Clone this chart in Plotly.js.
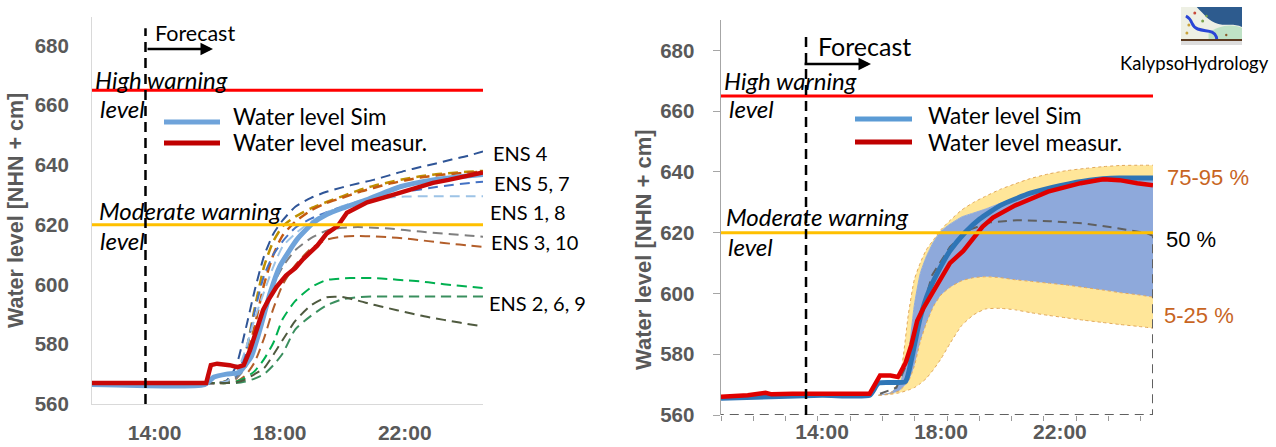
<!DOCTYPE html>
<html>
<head>
<meta charset="utf-8">
<script src="https://cdn.plot.ly/plotly-3.0.1.min.js"></script>
<style>html,body{margin:0;padding:0;background:#fff;}#chart{width:1276px;height:447px;}</style>
</head>
<body>
<div id="chart"></div>
<script>
// ---------------- DATA ----------------
// Left panel: ensemble forecast (hours of day, 24.5 = 00:30 next day)
const ensHours = [12, 16.0, 16.3, 16.6, 16.9, 17.2, 17.5, 17.8, 18.1, 18.5, 19.0, 19.5, 20.0, 20.5, 21.0, 21.5, 22.0, 22.5, 23.0, 23.5, 24.0, 24.5];
const ens4      = [567, 567, 567.8, 572.5, 584.5, 598, 609.5, 617, 621.5, 626, 629, 631, 632.5, 633.8, 635, 636.5, 638, 639.3, 640.5, 641.8, 643, 644.5];
const ens7      = [567, 567, 567.6, 569, 576.5, 592, 606, 614.5, 619.5, 622.7, 625.5, 627.6, 629.5, 631.4, 633, 634.2, 635.3, 636.2, 636.9, 637.3, 637.7, 638];
const ens10b    = [567, 567, 567.3, 568.5, 574, 586, 600, 610, 616.5, 621, 624.8, 627.3, 629, 630.8, 632.3, 633.7, 634.8, 635.8, 636.5, 637, 637.4, 637.8];
const ens5      = [567, 567, 567.6, 569, 577, 591, 603, 610, 614.5, 619, 622, 624.2, 626, 627.5, 628.8, 630, 631, 631.8, 632.6, 633.3, 633.9, 634.4];
const ens1      = [567, 567, 567.5, 570, 578, 588.5, 597.5, 606, 612.8, 617, 621, 624, 626.2, 627.8, 628.6, 629.1, 629.4, 629.5, 629.5, 629.5, 629.5, 629.5];
const ens3      = [567, 567, 567, 568.5, 572, 580, 590, 600, 606, 611.5, 615.5, 618, 619, 619.2, 619, 618.7, 618.2, 617.7, 617.2, 616.8, 616.4, 616];
const ens10     = [567, 567, 567, 567.5, 569.5, 574, 582, 592, 600, 606.5, 612, 615, 616, 616.2, 616.1, 615.8, 615.4, 614.8, 614.2, 613.6, 613.1, 612.6];
const ens2      = [567, 567, 567, 567.5, 568.8, 571, 575, 580.5, 588.5, 594.5, 599, 601.5, 602, 602.2, 602.1, 601.8, 601.4, 601, 600.4, 599.8, 599.3, 598.8];
const ens6      = [567, 567, 567, 567, 567.5, 568.5, 570, 573, 577, 585, 589.5, 593, 595, 595.7, 596, 596, 596, 596, 596, 596, 596, 596];
const ens9      = [567, 567, 567, 567.2, 568.2, 570, 572, 576.5, 581.5, 587.8, 593, 595.7, 595.8, 594.6, 593.2, 592, 590.8, 589.6, 588.6, 587.7, 586.8, 586];

const simHoursL = [12, 15.6, 15.9, 16.3, 16.7, 16.9, 17.1, 17.37, 17.69, 18.0, 18.55, 19.07, 19.5, 20.0, 20.8, 21.85, 22.9, 23.7, 24.5];
const simLevelL = [566.5, 566.5, 569, 570, 570.5, 573, 576, 585, 597, 606, 615, 620.6, 623.4, 625.5, 628.4, 632.7, 635, 636, 636.8];
const obsHoursL = [12, 13, 14, 15, 15.65, 15.8, 16.0, 16.4, 16.65, 16.85, 17.05, 17.3, 17.47, 17.65, 17.9, 18.2, 18.5, 18.75, 19.2, 19.5, 19.85, 20.15, 20.5, 20.8, 21.3, 21.85, 22.4, 22.9, 23.4, 23.8, 24.5];
const obsLevelL = [567, 567, 567, 567, 567, 573, 573.5, 573, 572.3, 573, 578, 586, 591.5, 595, 599.2, 603, 605.5, 608.5, 613, 617, 619.5, 624, 626, 627.5, 629, 630.8, 632.5, 634, 635, 635.8, 637.5];

// Right panel: percentile bands
const bandHours = [15.9, 16.3, 16.6, 16.9, 17.1, 17.3, 17.5, 17.75, 18.0, 18.3, 18.7, 19.1, 19.5, 20.0, 20.5, 21.0, 21.6, 22.2, 22.8, 23.4, 24.0, 24.6, 25.13];
const p5  = [566.5, 566.8, 567.3, 568.2, 569, 570.3, 572, 575, 578.5, 583.5, 589.5, 593, 594.9, 595.1, 594.6, 593.7, 592.8, 592, 591.2, 590.5, 589.8, 589.2, 588.6];
const p25 = [566.5, 567, 568, 571, 576, 584, 590, 595.8, 599.5, 602, 604.2, 605.2, 605.5, 605.2, 604.5, 604, 603.4, 602.8, 602, 601.2, 600.3, 599.6, 598.8];
const p75 = [566.5, 567.3, 570, 580, 596, 606.5, 612, 617, 620.5, 622.8, 625.2, 626.5, 627.8, 629.7, 631.5, 633, 634.8, 636.2, 637.3, 637.9, 638.3, 638.3, 638.3];
const p95 = [566.5, 567.2, 571.5, 593, 604.5, 610, 614.3, 617.7, 621, 624, 627.5, 630, 632, 634.3, 636.1, 637.8, 639.3, 640.4, 641.1, 641.7, 642.1, 642.2, 642.2];
const p50Hours = [15.95, 16.5, 16.9, 17.3, 17.7, 18.3, 18.9, 19.65, 20.55, 21.66, 22.77, 23.92, 24.93, 25.13, 25.13, 10.6];
const p50      = [567, 569, 578, 592, 606, 615.3, 620.8, 623.4, 624.1, 623.8, 623.1, 621.5, 619.8, 619, 560, 560];

const simHoursR = [10.6, 14, 15.6, 15.9, 16.8, 17.0, 17.3, 17.6, 18.0, 18.3, 18.8, 19.3, 20, 21, 22, 23, 24, 25.13];
const simLevelR = [565.5, 566.5, 566.5, 570.5, 571, 578, 592, 601, 609, 614, 620, 624.5, 629, 633, 635.5, 637.3, 638, 638];
const obsHoursR = [10.6, 11.5, 12.1, 12.3, 13, 14, 15, 15.6, 15.95, 16.3, 16.55, 16.8, 17.0, 17.2, 17.4, 17.9, 18.3, 18.75, 19.1, 19.4, 19.75, 20.5, 21.6, 22.7, 23.45, 24.0, 24.6, 25.13];
const obsLevelR = [566, 566.5, 567.3, 566.8, 567, 567, 567, 567, 573, 573, 572.5, 577, 583, 591, 595, 603.5, 610, 614, 618.5, 622, 625, 629, 633.5, 636.3, 637.6, 637.3, 636.3, 635.6];

// Thresholds and axis labels
const highWarning = 665;
const moderateWarning = 620;
const forecastStartL = 13.71;
const forecastStartR = 13.46;
const xTickVals = [14, 18, 22];
const xTickText = ['14:00', '18:00', '22:00'];
const yTickVals = [560, 580, 600, 620, 640, 660, 680];

const ensNames  = ['ENS 4', 'ENS 7', 'ENS 10b', 'ENS 5', 'ENS 1', 'ENS 3', 'ENS 10', 'ENS 2', 'ENS 6', 'ENS 9'];
const ensSeries = [ens4, ens7, ens10b, ens5, ens1, ens3, ens10, ens2, ens6, ens9];
const ensColors = ['#2F5597', '#BF9000', '#C55A11', '#4472C4', '#9DC3E6', '#7F7F7F', '#B35E2A', '#00B050', '#3A8F5E', '#4F5A3F'];
const ensLabels = ['ENS 4', 'ENS 5, 7', 'ENS 1, 8', 'ENS 3, 10', 'ENS 2, 6, 9'];

// ---------------- CHART ----------------
const W = 1276, H = 447;
const px = x => x / W;
const py = y => 1 - y / H;
const TF = 'Lato, "Open Sans", sans-serif';
const AF = '"Liberation Sans", Arial, sans-serif';

const traces = [];
ensSeries.forEach((s, i) => {
  traces.push({x: ensHours, y: s, xaxis: 'x', yaxis: 'y', type: 'scatter', mode: 'lines', name: ensNames[i],
    line: {color: ensColors[i], width: (i === 1 || i === 2) ? 2.5 : 2, dash: '10px,6px', shape: 'spline', smoothing: 0.6}, hoverinfo: 'skip'});
});
traces.push({x: simHoursL, y: simLevelL, xaxis: 'x', yaxis: 'y', mode: 'lines', name: 'Sim',
  line: {color: '#6FA3DA', width: 5, shape: 'spline', smoothing: 0.5}});
traces.push({x: obsHoursL, y: obsLevelL, xaxis: 'x', yaxis: 'y', mode: 'lines', name: 'Measured',
  line: {color: '#C80808', width: 4.5}});

const edge = {color: '#E2A85A', width: 1, dash: 'dot', shape: 'spline', smoothing: 0.5};
traces.push({x: bandHours, y: p5, xaxis: 'x2', yaxis: 'y2', mode: 'lines', line: edge});
traces.push({x: bandHours, y: p25, xaxis: 'x2', yaxis: 'y2', mode: 'lines', line: edge, fill: 'tonexty', fillcolor: '#FFE699'});
traces.push({x: bandHours, y: p75, xaxis: 'x2', yaxis: 'y2', mode: 'lines', line: {color: '#8EA9DB', width: 1, shape: 'spline', smoothing: 0.5}, fill: 'tonexty', fillcolor: '#8EA9DB'});
traces.push({x: bandHours, y: p95, xaxis: 'x2', yaxis: 'y2', mode: 'lines', line: edge, fill: 'tonexty', fillcolor: '#FFE699'});
traces.push({x: p50Hours, y: p50, xaxis: 'x2', yaxis: 'y2', mode: 'lines', line: {color: '#606060', width: 2, dash: '9px,6px'}});
traces.push({x: simHoursR, y: simLevelR, xaxis: 'x2', yaxis: 'y2', mode: 'lines', line: {color: '#2E75B6', width: 5, shape: 'spline', smoothing: 0.5}});
traces.push({x: obsHoursR, y: obsLevelR, xaxis: 'x2', yaxis: 'y2', mode: 'lines', line: {color: '#E00000', width: 4.5}});

const tickFontY = {family: AF, size: 20.5, color: '#595959', weight: 'bold'};
const tickFontX = {family: AF, size: 21, color: '#595959', weight: 'bold'};

const shapes = [
  // left thresholds
  {type: 'line', xref: 'x domain', yref: 'y', x0: 0, x1: 1, y0: highWarning, y1: highWarning, line: {color: '#FF0000', width: 3}},
  {type: 'line', xref: 'x domain', yref: 'y', x0: 0, x1: 1, y0: moderateWarning, y1: moderateWarning, line: {color: '#FFC000', width: 3}},
  {type: 'line', xref: 'x', yref: 'y', x0: forecastStartL, x1: forecastStartL, y0: 560, y1: 685.7, line: {color: '#000', width: 2.5, dash: '10px,6px'}},
  // right thresholds
  {type: 'line', xref: 'x2 domain', yref: 'y2', x0: 0, x1: 1, y0: highWarning, y1: highWarning, line: {color: '#FF0000', width: 3}},
  {type: 'line', xref: 'x2 domain', yref: 'y2', x0: 0, x1: 1, y0: moderateWarning, y1: moderateWarning, line: {color: '#FFC000', width: 3}},
  {type: 'line', xref: 'x2', yref: 'y2', x0: forecastStartR, x1: forecastStartR, y0: 560, y1: 685.6, line: {color: '#000', width: 2.5, dash: '10px,6px'}},
  // legend keys
  {type: 'line', xref: 'paper', yref: 'paper', x0: px(164), x1: px(220), y0: py(122), y1: py(122), line: {color: '#6FA3DA', width: 5}},
  {type: 'line', xref: 'paper', yref: 'paper', x0: px(164), x1: px(220), y0: py(143), y1: py(143), line: {color: '#C00000', width: 5}},
  {type: 'line', xref: 'paper', yref: 'paper', x0: px(855), x1: px(912), y0: py(119), y1: py(119), line: {color: '#5B9BD5', width: 5}},
  {type: 'line', xref: 'paper', yref: 'paper', x0: px(855), x1: px(912), y0: py(142), y1: py(142), line: {color: '#C00000', width: 5}}
];

function lab(text, x, y, o) {
  const a = {text: text, xref: 'paper', yref: 'paper', x: px(x), y: py(y), xanchor: 'left', yanchor: 'middle',
    showarrow: false, font: {family: TF, size: 20, color: '#000'}};
  return Object.assign(a, o || {});
}
const it = s => ({family: TF, size: s, color: '#000', style: 'italic'});
const nf = s => ({family: TF, size: s, color: '#000'});
const arrow = (x0, x1, y) => ({text: '', xref: 'paper', yref: 'paper', x: px(x1), y: py(y), ax: -(x1 - x0), ay: 0,
  axref: 'pixel', ayref: 'pixel', showarrow: true, arrowhead: 2, arrowsize: 1, arrowwidth: 2.5, arrowcolor: '#000'});

const annotations = [
  lab('Forecast', 153, 33, {font: nf(21.5)}),
  arrow(146, 213, 49),
  lab('High warning', 93, 79, {font: it(24)}),
  lab('level', 98, 108, {font: it(24)}),
  lab('Moderate warning', 97, 210, {font: it(24)}),
  lab('level', 98, 240, {font: it(24)}),
  lab('Water level Sim', 231, 117, {font: nf(22.5)}),
  lab('Water level measur.', 231, 143, {font: nf(22.5)}),
  lab(ensLabels[0], 491, 153),
  lab(ensLabels[1], 492, 183),
  lab(ensLabels[2], 488, 212),
  lab(ensLabels[3], 489, 242),
  lab(ensLabels[4], 487, 303),
  lab('Water level [NHN + cm]', 16, 211, {xanchor: 'center', textangle: -90, font: {family: AF, size: 21.5, color: '#595959', weight: 'bold'}}),

  lab('Forecast', 816, 46, {font: nf(25)}),
  arrow(803, 871, 64),
  lab('High warning', 722, 80, {font: it(24)}),
  lab('level', 727, 108, {font: it(24)}),
  lab('Moderate warning', 724, 216, {font: it(24)}),
  lab('level', 726, 246, {font: it(24)}),
  lab('Water level Sim', 926, 115, {font: nf(22.5)}),
  lab('Water level measur.', 926, 142, {font: nf(22.5)}),
  lab('75-95 %', 1165, 177, {font: {family: AF, size: 22, color: '#C8651F'}}),
  lab('50 %', 1164, 239, {font: {family: AF, size: 22, color: '#000'}}),
  lab('5-25 %', 1162, 315, {font: {family: AF, size: 22, color: '#C8651F'}}),
  lab('KalypsoHydrology', 1118, 63, {font: nf(18.5)}),
  lab('Water level [NHN + cm]', 643, 250, {xanchor: 'center', textangle: -90, font: {family: AF, size: 22, color: '#595959', weight: 'bold'}})
];

const logoSvg = "<svg xmlns='http://www.w3.org/2000/svg' width='62' height='38' viewBox='0 0 62 38'>" +
  "<rect width='62' height='38' fill='#2D5B8E'/>" +
  "<path d='M0 0 H16 C24 8 28 14 38 17 C46 19 54 16 62 20 V38 H0 Z' fill='#EEF0E4'/>" +
  "<path d='M28 26 C38 19 50 16 62 21 V33 H28 Z' fill='#BFE2C6'/>" +
  "<path d='M5 9 C13 13 9 19 17 22 C25 25 33 22 36 30 L37 37' stroke='#2A46D6' stroke-width='3' fill='none'/>" +
  "<circle cx='8' cy='18' r='1.5' fill='#C9A23A'/><circle cx='14' cy='6' r='1.5' fill='#C94A3A'/><circle cx='22' cy='14' r='1.5' fill='#7AA34A'/>" +
  "<circle cx='6' cy='26' r='1.5' fill='#C9A23A'/><circle cx='26' cy='9' r='1.2' fill='#7AA34A'/><circle cx='46' cy='28' r='1.2' fill='#8A5A2A'/>" +
  "<rect y='32' width='62' height='2' fill='#5B3A20'/><rect y='34' width='62' height='4' fill='#DDDDDD'/>" +
  "</svg>";

const layout = {
  width: W, height: H,
  margin: {l: 0, r: 0, t: 0, b: 0},
  paper_bgcolor: '#FFFFFF', plot_bgcolor: 'rgba(0,0,0,0)',
  showlegend: false,
  xaxis: {domain: [px(92), px(483)], range: [12, 24.5], anchor: 'y', tickmode: 'array', tickvals: xTickVals, ticktext: xTickText,
    showgrid: false, zeroline: false, showline: true, linecolor: '#D9D9D9', linewidth: 1, ticks: '', tickfont: tickFontX, ticklabelstandoff: 10},
  yaxis: {domain: [py(404), py(17)], range: [560, 689.5], anchor: 'x', tickmode: 'array', tickvals: yTickVals,
    showgrid: false, zeroline: false, showline: true, linecolor: '#D9D9D9', linewidth: 1, ticks: '', tickfont: tickFontY, ticklabelstandoff: 18},
  xaxis2: {domain: [px(721), px(1153)], range: [10.6, 25.13], anchor: 'y2', tickmode: 'array', tickvals: xTickVals, ticktext: xTickText,
    showgrid: false, zeroline: false, showline: false, ticks: '', tickfont: tickFontX, ticklabelstandoff: 2,
    minor: {ticks: 'outside', ticklen: 5, tickcolor: '#9A9A9A', tickwidth: 1, tick0: 10.6, dtick: 1.086, showgrid: false}},
  yaxis2: {domain: [py(415), py(20)], range: [560, 690], anchor: 'x2', tickmode: 'array', tickvals: yTickVals,
    showgrid: false, zeroline: false, showline: true, linecolor: '#A6A6A6', linewidth: 1.5, ticks: 'outside', ticklen: 7, tickcolor: '#A6A6A6',
    tickfont: tickFontY, ticklabelstandoff: 14},
  shapes: shapes,
  annotations: annotations,
  images: [{source: 'data:image/svg+xml;charset=utf-8,' + encodeURIComponent(logoSvg), xref: 'paper', yref: 'paper',
    x: px(1181), y: py(7), sizex: px(1242) - px(1181), sizey: 38 / H, xanchor: 'left', yanchor: 'top', sizing: 'stretch', layer: 'above'}]
};

Plotly.newPlot('chart', traces, layout, {displayModeBar: false, staticPlot: true});
</script>
</body>
</html>
